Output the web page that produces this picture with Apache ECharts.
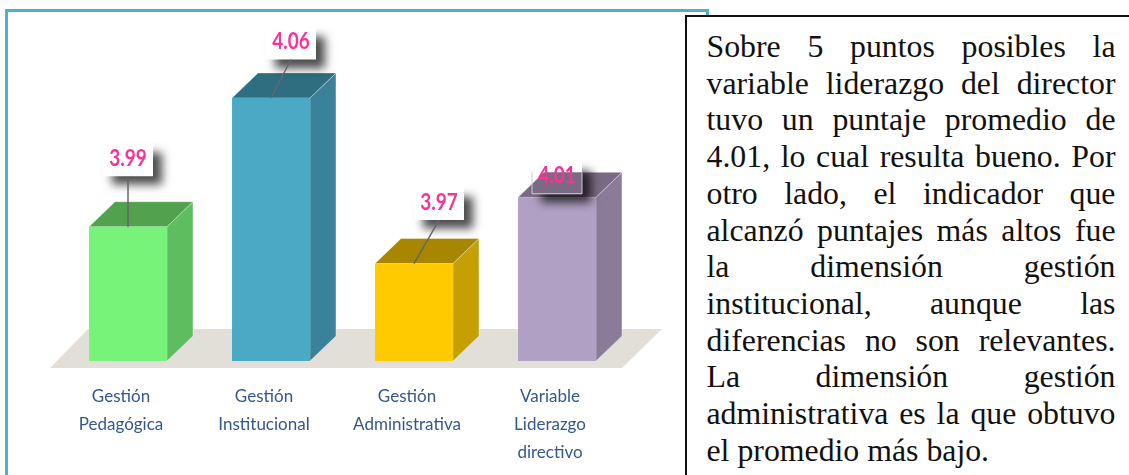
<!DOCTYPE html>
<html>
<head>
<meta charset="utf-8">
<title>Liderazgo directivo</title>
<script src="https://cdn.jsdelivr.net/npm/echarts@6/dist/echarts.min.js"></script>
<style>
    html, body { margin: 0; padding: 0; background: #fff; overflow: hidden; }
    #frame { position: absolute; left: 5px; top: 9px; width: 698px; height: 480px; border: 3px solid #4fb0c9; }
    #chart { position: absolute; left: 0; top: 0; width: 690px; height: 475px; }
    #note {
        position: absolute; left: 685px; top: 15px; width: 460px; height: 480px;
        box-sizing: border-box; background: #fff; border: 2.5px solid #111;
        padding: 12px 0 0 19.5px;
        font-family: "Liberation Serif", serif; font-size: 31.8px; line-height: 36.7px; color: #111;
    }
    #note div { width: 409px; white-space: nowrap; text-align: justify; text-align-last: justify; }
    #note div:last-child { text-align-last: left; }
</style>
</head>
<body>
<div id="frame"></div>
<div id="chart"></div>
<div id="note"></div>
<script>
var categories = ['Gestión\nPedagógica', 'Gestión\nInstitucional', 'Gestión\nAdministrativa', 'Variable\nLiderazgo\ndirectivo'];
// promedios; the last bar is drawn a little under its printed 4.01, so it is read as 4.006
var scores = [3.99, 4.06, 3.97, 4.006];
var noteLines = [
    'Sobre 5 puntos posibles la',
    'variable liderazgo del director',
    'tuvo un puntaje promedio de',
    '4.01, lo cual resulta bueno. Por',
    'otro lado, el indicador que',
    'alcanzó puntajes más altos fue',
    'la dimensión gestión',
    'institucional, aunque las',
    'diferencias no son relevantes.',
    'La dimensión gestión',
    'administrativa es la que obtuvo',
    'el promedio más bajo.'
];

// front, top, side
var faceColors = [
    ['#77f37a', '#52a14e', '#5ebd5e'],
    ['#4aa9c4', '#2e6e80', '#3a8299'],
    ['#ffcb00', '#a98600', '#c5a000'],
    ['#b0a0c4', '#7a6a84', '#8a7c98']
];
// centre of each callout box, measured from the top middle of the front face
var calloutOffset = [[0, -67], [20, -55], [25, -60], [0, -20]];
var depthX = 26, depthY = 25;
var boxW = 50, boxH = 33;

document.getElementById('note').innerHTML = noteLines.map(function (l) {
    return '<div>' + l + '</div>';
}).join('');

var myChart = echarts.init(document.getElementById('chart'));

function renderBar(params, api) {
    var i = api.value(0);
    var top = api.coord([i, api.value(1)]);
    var base = api.coord([i, 3.917]);
    var w = api.size([1, 0])[0] * 0.545;
    var x0 = top[0] - w / 2, x1 = top[0] + w / 2, y0 = top[1], y1 = base[1];
    var c = faceColors[i];
    var off = calloutOffset[i];
    var bx = top[0] + off[0] - boxW / 2, by = y0 + off[1] - boxH / 2;
    var topFace = [[x0, y0], [x1, y0], [x1 + depthX, y0 - depthY], [x0 + depthX, y0 - depthY]];
    var edge = 'rgba(255,255,255,0.35)';

    var children = [
        { type: 'polygon', shape: { points: [[x1, y0], [x1 + depthX, y0 - depthY], [x1 + depthX, y1 - depthY], [x1, y1]] },
          style: { fill: c[2], stroke: edge, lineWidth: 1 } },
        { type: 'polygon', shape: { points: topFace }, style: { fill: c[1], stroke: edge, lineWidth: 1 } },
        { type: 'rect', shape: { x: x0, y: y0, width: w, height: y1 - y0 }, style: { fill: c[0] } },
        { type: 'rect', shape: { x: bx, y: by, width: boxW, height: boxH },
          style: { fill: '#fff', shadowBlur: 9, shadowOffsetX: 9, shadowOffsetY: 9, shadowColor: 'rgba(0,0,0,0.7)' } }
    ];
    if (i === 3) {
        // this box has no fill in the reference, the bar shows through it
        children.push({ type: 'polygon', shape: { points: topFace }, style: { fill: c[1] },
            clipPath: { type: 'rect', shape: { x: bx, y: by, width: boxW, height: boxH } } });
        children.push({ type: 'rect', shape: { x: bx, y: by, width: boxW, height: boxH },
            style: { fill: 'none', stroke: '#cfcad6', lineWidth: 1 },
            clipPath: { type: 'rect', shape: { x: bx - 1, y: y0 - depthY, width: boxW + 2, height: depthY } } });
    } else {
        children.push({ type: 'line', shape: { x1: top[0] + off[0], y1: by + boxH, x2: top[0], y2: y0 },
            style: { stroke: '#666', lineWidth: 1.5 } });
    }
    children.push({ type: 'text', x: top[0] + off[0], y: by + boxH / 2 - 1, scaleX: 0.86,
        style: { text: api.value(1).toFixed(2), font: 'bold 22px Lato', fill: '#ff2f97', align: 'center', verticalAlign: 'middle' } });
    return { type: 'group', children: children };
}

var option = {
    animation: false,
    grid: { left: 56.5, top: 98, width: 572, height: 263 },
    xAxis: {
        type: 'category',
        data: categories,
        axisLine: { show: false },
        axisTick: { show: false },
        axisLabel: {
            margin: 22,
            interval: 0,
            padding: [0, 14, 0, 0],
            color: '#34588c',
            fontFamily: 'Lato',
            fontSize: 17,
            lineHeight: 28
        }
    },
    yAxis: { type: 'value', min: 3.917, max: 4.06, show: false },
    graphic: [
        { type: 'polygon', z: -1, shape: { points: [[50, 368], [622, 368], [662, 329], [88, 329]] }, style: { fill: '#e2dfd8' } }
    ],
    series: [
        {
            type: 'custom',
            renderItem: renderBar,
            encode: { x: 0, y: 1 },
            data: scores.map(function (v, i) { return [i, v]; })
        }
    ]
};
myChart.setOption(option);

window.addEventListener('resize', function () {
    myChart.resize();
});
</script>
</body>
</html>
